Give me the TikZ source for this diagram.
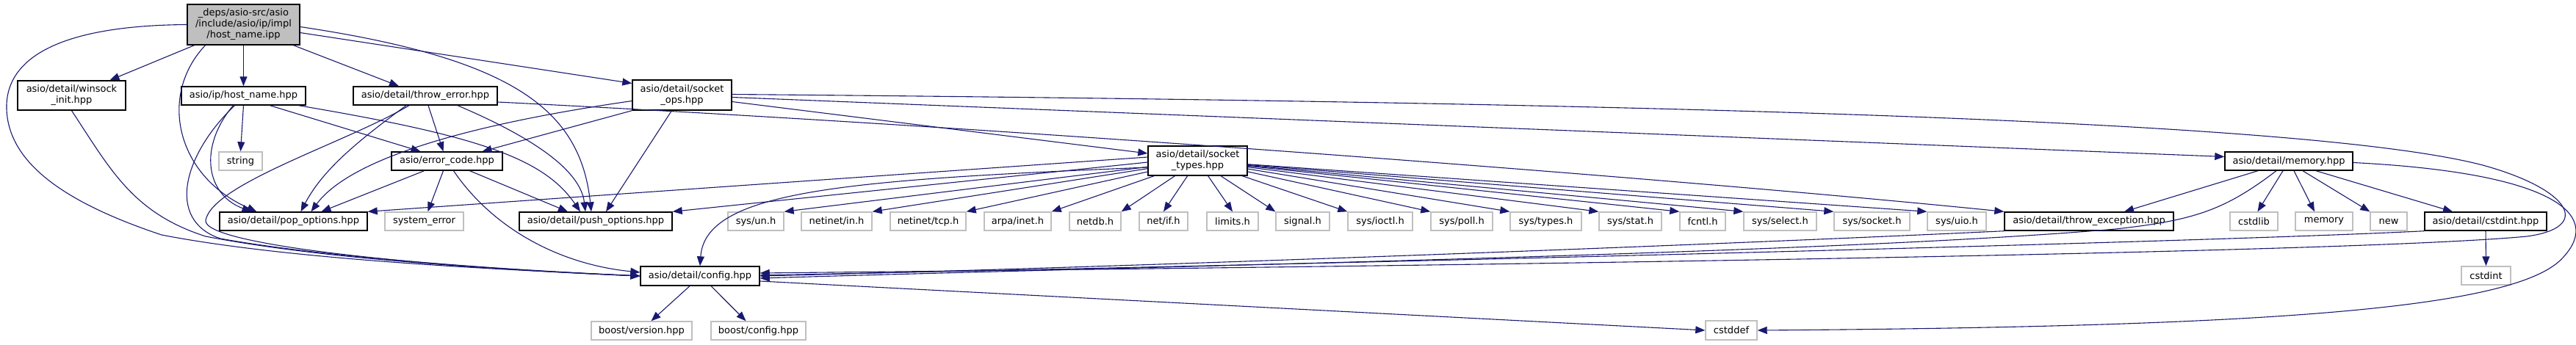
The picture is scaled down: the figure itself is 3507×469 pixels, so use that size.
\documentclass[tikz,border=0pt]{standalone}
\usepackage{fontspec}
\setmainfont{DejaVu Sans}
\usetikzlibrary{arrows.meta}
\definecolor{edgeblue}{HTML}{191970}
\definecolor{extgray}{HTML}{BFBFBF}
\definecolor{mainfill}{HTML}{BFBFBF}
\tikzset{
  doc/.style={draw=black,text=black,line width=1.4pt,font=\fontsize{13}{15}\selectfont,align=center,inner sep=0pt,minimum height=25pt},
  ext/.style={doc,draw=extgray},
  edge/.style={draw=edgeblue,line width=1.1pt,-{Triangle[length=13pt,width=10pt]}},
}
\begin{document}
\begin{tikzpicture}[x=1pt,y=-1pt]
\useasboundingbox (0,0) rectangle (3507,469);
\node[doc,fill=mainfill,minimum width=153,minimum height=55] (main) at (331.5,33.5) {\_deps/asio-src/asio\\/include/asio/ip/impl\\/host\_name.ipp};
\node[doc,minimum width=147,minimum height=40] (winsock) at (97.5,130) {asio/detail/winsock\\\_init.hpp};
\node[doc,minimum width=169] (hn) at (331.5,130.5) {asio/ip/host\_name.hpp};
\node[doc,minimum width=196] (ter) at (579,130.5) {asio/detail/throw\_error.hpp};
\node[doc,minimum width=135,minimum height=41] (so) at (928.5,129.5) {asio/detail/socket\\\_ops.hpp};
\node[ext,minimum width=59] (string) at (327.5,219.5) {string};
\node[doc,minimum width=151] (ec) at (608.5,219.5) {asio/error\_code.hpp};
\node[doc,minimum width=135,minimum height=40] (st) at (1630.5,219) {asio/detail/socket\\\_types.hpp};
\node[doc,minimum width=174] (mem) at (3116,219.5) {asio/detail/memory.hpp};
\node[doc,minimum width=201] (pop) at (399.5,301.5) {asio/detail/pop\_options.hpp};
\node[ext,minimum width=107] (syserr) at (577.5,301.5) {system\_error};
\node[doc,minimum width=208] (push) at (811,301.5) {asio/detail/push\_options.hpp};
\node[doc,minimum width=230] (tex) at (2844,301.5) {asio/detail/throw\_exception.hpp};
\node[ext,minimum width=65] (cstdlib) at (3068.5,301.5) {cstdlib};
\node[ext,minimum width=78] (memory) at (3164,301.5) {memory};
\node[ext,minimum width=50] (new) at (3252,301.5) {new};
\node[doc,minimum width=166] (ci) at (3384,301.5) {asio/detail/cstdint.hpp};
\node[doc,minimum width=162,minimum height=26] (cfg) at (953,376) {asio/detail/config.hpp};
\node[ext,minimum width=67] (cstdint) at (3384.5,375.5) {cstdint};
\node[ext,minimum width=137] (bver) at (873.5,450.5) {boost/version.hpp};
\node[ext,minimum width=129] (bcfg) at (1032.5,450.5) {boost/config.hpp};
\node[ext,minimum width=70,minimum height=26] (cstddef) at (2357,450) {cstddef};

\foreach \nm/\lab/\x/\w/\tgt in {un/{sys/un.h}/1029/76/north east,nin/{netinet/in.h}/1139/96/north east,
  ntcp/{netinet/tcp.h}/1263.5/103/north east,inet/{arpa/inet.h}/1385.5/91/north east,ndb/{netdb.h}/1491/70/north east,
  nif/{net/if.h}/1584/66/north,lim/{limits.h}/1678/70/north,sig/{signal.h}/1773.5/73/north west,
  ioctl/{sys/ioctl.h}/1879/88/north west,poll/{sys/poll.h}/1990/84/north west,stypes/{sys/types.h}/2104.5/97/north west,
  stat/{sys/stat.h}/2219.5/85/north west,fcntl/{fcntl.h}/2318/62/north west,sel/{sys/select.h}/2423.5/99/north west,
  sock/{sys/socket.h}/2548.5/103/north west,uio/{sys/uio.h}/2664/80/north west} {
  \node[ext,minimum width=\w] (\nm) at (\x,301.5) {\lab};
  \draw[edge] (st) -- (\nm.\tgt);
}

\draw[edge] ([xshift=-67pt]main.south) -- ([xshift=52pt]winsock.north);
\draw[edge] (main.south) -- (hn.north);
\draw[edge] ([xshift=68pt]main.south) -- ([xshift=-36pt]ter.north);
\draw[edge] ([yshift=-11pt]main.east) -- ([yshift=16pt]so.west);
\draw[edge] ([yshift=-3pt]main.east) .. controls (700,80) and (790,150) .. ([xshift=-6pt]push.north);
\draw[edge] ([xshift=-52pt]main.south) .. controls (215,130) and (240,240) .. ([xshift=-50pt]pop.north);
\draw[edge] (main.west) .. controls (60,35) and (0,90) .. (10,160) .. controls (20,230) and (100,280) .. (220,320) .. controls (400,355) and (700,368) .. (cfg.west);
\draw[edge] (winsock.south) .. controls (150,230) and (180,290) .. (280,322) .. controls (450,355) and (700,368) .. (cfg.west);

\draw[edge] (hn.south) -- (string.north);
\draw[edge] ([xshift=36pt]hn.south) -- ([xshift=-36pt]ec.north);
\draw[edge] ([xshift=75pt]hn.south) .. controls (650,185) and (740,215) .. ([xshift=-21pt]push.north);
\draw[edge] ([xshift=-14pt]hn.south) .. controls (270,200) and (280,265) .. ([xshift=-57pt]pop.north);
\draw[edge] ([xshift=-12pt]hn.south) .. controls (250,210) and (225,300) .. (300,325) .. controls (450,352) and (700,368) .. (cfg.west);

\draw[edge] ([xshift=4pt]ter.south) -- ([xshift=-5pt]ec.north);
\draw[edge] ([xshift=-26pt]ter.south) .. controls (490,190) and (440,230) .. ([xshift=10pt]pop.north);
\draw[edge] ([xshift=-22pt]ter.south) .. controls (470,195) and (290,250) .. (280,300) .. controls (275,335) and (600,365) .. (cfg.west);
\draw[edge] ([xshift=44pt]ter.south) .. controls (720,185) and (790,230) .. ([xshift=-14pt]push.north);
\draw[edge] ([yshift=-8.5pt]ter.east) .. controls (1400,175) and (2300,245) .. (tex.north west);

\draw[edge] ([xshift=-31pt]ec.south) -- ([xshift=38pt]pop.north);
\draw[edge] ([xshift=-5pt]ec.south) -- ([xshift=5pt]syserr.north);
\draw[edge] ([xshift=9pt]ec.south) .. controls (670,310) and (760,360) .. ([yshift=5pt]cfg.west);
\draw[edge] ([xshift=31pt]ec.south) -- ([xshift=-38pt]push.north);

\draw[edge] ([yshift=-8pt]so.west) .. controls (600,175) and (470,225) .. ([xshift=24pt]pop.north);
\draw[edge] (so.south west) -- ([xshift=48pt]ec.north);
\draw[edge] ([xshift=-14pt]so.south) -- ([xshift=14pt]push.north);
\draw[edge] ([yshift=-9pt]so.east) -- ([yshift=10pt]st.west);
\draw[edge] ([yshift=-3pt]so.east) -- ([yshift=6pt]mem.west);
\draw[edge] ([yshift=1pt]so.east) .. controls (2300,140) and (3150,165) .. (3380,225) .. controls (3500,258) and (3530,310) .. (3440,322) .. controls (3200,345) and (2000,362) .. ([yshift=4pt]cfg.east);

\draw[edge] ([yshift=5pt]st.west) -- (pop.north east);
\draw[edge] ([yshift=-2pt]st.west) -- (push.north east);
\draw[edge] ([yshift=-9pt]st.west) .. controls (1150,245) and (960,260) .. (cfg.north);

\draw[edge] ([xshift=-42pt]mem.south) -- ([xshift=48pt]tex.north);
\draw[edge] ([xshift=-17pt]mem.south) .. controls (3030,285) and (2990,300) .. (2880,312) .. controls (2500,345) and (1600,362) .. ([yshift=-3pt]cfg.east);
\draw[edge] ([xshift=-8pt]mem.south) -- ([xshift=5pt]cstdlib.north);
\draw[edge] ([xshift=7pt]mem.south) -- ([xshift=-13pt]memory.north);
\draw[edge] ([xshift=19pt]mem.south) -- (new.north west);
\draw[edge] ([xshift=37pt]mem.south) -- ([xshift=-45pt]ci.north);
\draw[edge] ([yshift=-2pt]mem.east) .. controls (3470,235) and (3545,290) .. (3490,350) .. controls (3430,420) and (3100,445) .. (cstddef.east);

\draw[edge] (ci.south) -- (cstdint.north);
\draw[edge] (ci.south west) .. controls (3000,330) and (1800,360) .. ([yshift=1pt]cfg.east);
\draw[edge] (tex.south west) .. controls (2300,335) and (1500,365) .. (cfg.east);

\draw[edge] ([xshift=-14pt]cfg.south) -- ([xshift=13pt]bver.north);
\draw[edge] ([xshift=15pt]cfg.south) -- ([xshift=-17pt]bcfg.north);
\draw[edge] ([yshift=-7pt]cfg.east) -- (cstddef.west);
\end{tikzpicture}
\end{document}
